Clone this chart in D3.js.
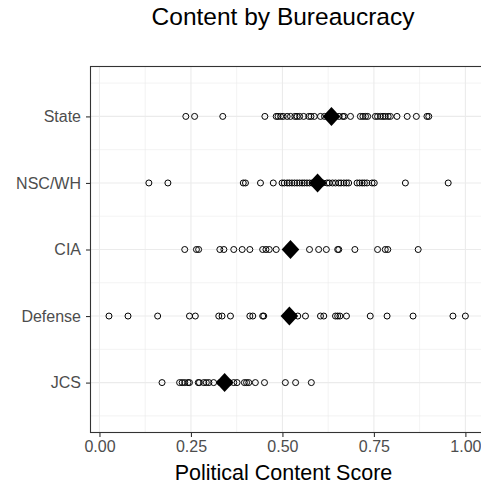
<!DOCTYPE html>
<html>
<head>
<meta charset="utf-8">
<script src="https://cdn.jsdelivr.net/npm/d3@7"></script>
<style>
  body { margin: 0; background: #fff; }
  svg { display: block; font-family: "Liberation Sans", Arial, sans-serif; }
</style>
</head>
<body>
<svg id="chart" width="481" height="487"></svg>
<script>
// categories, bottom to top
const bureaus = ['JCS', 'Defense', 'CIA', 'NSC/WH', 'State'];

const jcsScores = [0.171, 0.219, 0.226, 0.233, 0.242, 0.246, 0.270, 0.273, 0.285, 0.292, 0.299, 0.312,
  0.330, 0.345, 0.355, 0.367, 0.376, 0.396, 0.402, 0.408, 0.426, 0.451, 0.508, 0.536, 0.579];
const defenseScores = [0.026, 0.078, 0.159, 0.246, 0.262, 0.326, 0.335, 0.358, 0.411, 0.419, 0.446, 0.449,
  0.510, 0.530, 0.542, 0.563, 0.604, 0.613, 0.645, 0.651, 0.657, 0.675, 0.740, 0.786, 0.857, 0.966, 1.000];
const ciaScores = [0.233, 0.265, 0.271, 0.329, 0.340, 0.367, 0.390, 0.411, 0.446, 0.455, 0.464, 0.483,
  0.574, 0.599, 0.620, 0.651, 0.654, 0.698, 0.760, 0.781, 0.788, 0.871];
const nscScores = [0.135, 0.187, 0.393, 0.399, 0.440, 0.475, 0.499, 0.505, 0.513, 0.519, 0.526, 0.533,
  0.540, 0.547, 0.554, 0.560, 0.567, 0.574, 0.581, 0.590, 0.600, 0.610, 0.622, 0.628, 0.637, 0.645,
  0.654, 0.660, 0.668, 0.675, 0.681, 0.704, 0.711, 0.718, 0.724, 0.731, 0.745, 0.751, 0.836, 0.953];
const stateScores = [0.236, 0.260, 0.337, 0.452, 0.483, 0.488, 0.495, 0.502, 0.513, 0.522, 0.534, 0.540,
  0.547, 0.558, 0.572, 0.578, 0.587, 0.604, 0.615, 0.625, 0.645, 0.655, 0.665, 0.669, 0.686, 0.713,
  0.720, 0.727, 0.733, 0.754, 0.760, 0.768, 0.775, 0.781, 0.789, 0.795, 0.813, 0.841, 0.866, 0.895, 0.900];
const scoresByBureau = [jcsScores, defenseScores, ciaScores, nscScores, stateScores];

// group means (diamonds), same order as bureaus
const meanScores = [0.342, 0.519, 0.522, 0.596, 0.634];

const xTicks = [0, 0.25, 0.5, 0.75, 1];
const xMinor = [0.125, 0.375, 0.625, 0.875];
const yTicks = [1, 2, 3, 4, 5];
const yMinor = [0.5, 1.5, 2.5, 3.5, 4.5, 5.5];

const svg = d3.select('#chart');
const panel = { left: 90.5, top: 66.5, right: 483.5, bottom: 432.5 };

const x = d3.scaleLinear().domain([-0.0245, 1.0495]).range([panel.left, panel.right]);
const y = d3.scaleLinear().domain([0.25, 5.75]).range([panel.bottom, panel.top]);

svg.append('rect').attr('width', 481).attr('height', 487).attr('fill', '#fff');

// grid
const grid = svg.append('g');
grid.selectAll('.xminor').data(xMinor).enter().append('line')
  .attr('x1', d => x(d)).attr('x2', d => x(d))
  .attr('y1', panel.top).attr('y2', panel.bottom)
  .attr('stroke', '#ebebeb').attr('stroke-width', 0.6);
grid.selectAll('.yminor').data(yMinor).enter().append('line')
  .attr('y1', d => y(d)).attr('y2', d => y(d))
  .attr('x1', panel.left).attr('x2', panel.right)
  .attr('stroke', '#ebebeb').attr('stroke-width', 0.6);
grid.selectAll('.xmajor').data(xTicks).enter().append('line')
  .attr('x1', d => x(d)).attr('x2', d => x(d))
  .attr('y1', panel.top).attr('y2', panel.bottom)
  .attr('stroke', '#ebebeb').attr('stroke-width', 1.1);
grid.selectAll('.ymajor').data(yTicks).enter().append('line')
  .attr('y1', d => y(d)).attr('y2', d => y(d))
  .attr('x1', panel.left).attr('x2', panel.right)
  .attr('stroke', '#ebebeb').attr('stroke-width', 1.1);

// points
const pts = [];
scoresByBureau.forEach((arr, i) => arr.forEach(v => pts.push({ pos: i + 1, v })));
svg.append('g').selectAll('circle').data(pts).enter().append('circle')
  .attr('cx', d => x(d.v)).attr('cy', d => y(d.pos)).attr('r', 3)
  .attr('fill', 'none').attr('stroke', '#000').attr('stroke-width', 1);

// means
svg.append('g').selectAll('path').data(meanScores).enter().append('path')
  .attr('d', (d, i) => {
    const cx = x(d), cy = y(i + 1), w = 8.8, h = 9.5;
    return `M${cx},${cy - h}L${cx + w},${cy}L${cx},${cy + h}L${cx - w},${cy}Z`;
  })
  .attr('fill', '#000');

// panel border
svg.append('rect')
  .attr('x', panel.left).attr('y', panel.top)
  .attr('width', panel.right - panel.left).attr('height', panel.bottom - panel.top)
  .attr('fill', 'none').attr('stroke', '#333').attr('stroke-width', 1.1);

// axes
const xAxis = svg.append('g').attr('transform', `translate(0,${panel.bottom})`)
  .call(d3.axisBottom(x).tickValues(xTicks).tickFormat(d3.format('.2f')).tickSize(4.5).tickPadding(4));
const yAxis = svg.append('g').attr('transform', `translate(${panel.left},0)`)
  .call(d3.axisLeft(y).tickValues(yTicks).tickFormat(d => bureaus[d - 1]).tickSize(4.5).tickPadding(5));
[xAxis, yAxis].forEach(a => {
  a.select('.domain').remove();
  a.selectAll('line').attr('stroke', '#333').attr('stroke-width', 1.1);
  a.selectAll('text').attr('fill', '#4d4d4d').style('font-size', '16px')
    .style('font-family', '"Liberation Sans", Arial, sans-serif');
});

// titles
svg.append('text').attr('x', 283).attr('y', 25).attr('text-anchor', 'middle')
  .style('font-size', '24.5px').attr('fill', '#000').text('Content by Bureaucracy');
svg.append('text').attr('x', 283.5).attr('y', 480).attr('text-anchor', 'middle')
  .style('font-size', '21.5px').attr('fill', '#000').text('Political Content Score');
</script>
</body>
</html>
